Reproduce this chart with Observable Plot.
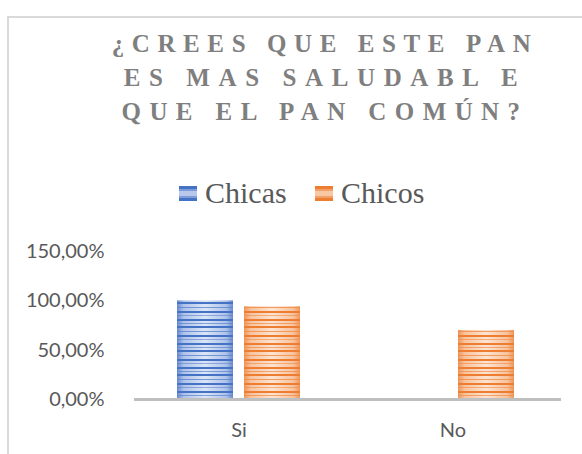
<!DOCTYPE html>
<html>
<head>
<meta charset="utf-8">
<script src="https://cdn.jsdelivr.net/npm/d3@7"></script>
<script src="https://cdn.jsdelivr.net/npm/@observablehq/plot@0.6"></script>
<style>
  html, body { margin: 0; padding: 0; background: #fff; }
  #page { position: relative; width: 582px; height: 454px; overflow: hidden; background: #fff; }
  #frame { position: absolute; left: 7px; top: 16px; width: 700px; height: 600px;
           border-top: 2px solid #d9d9d9; border-left: 2px solid #d9d9d9; box-sizing: border-box; }
  #title { position: absolute; left: 0; top: 27px; width: 650px; text-align: center;
           font-family: "Liberation Serif", "DejaVu Serif", serif; font-weight: bold;
           font-size: 25px; line-height: 34px; color: #7f7f7f; }
  .leg { position: absolute; top: 178px; height: 30px; display: flex; align-items: center;
         font-family: "Liberation Serif", serif; font-size: 30px; line-height: 30px; color: #595959; }
  .sw { width: 18px; height: 15px; margin-right: 8px; }
  #chart { position: absolute; left: 0; top: 230px; }
</style>
</head>
<body>
<svg width="0" height="0" style="position:absolute">
  <defs>
    <linearGradient id="gradChicas" x1="0" x2="1" y1="0" y2="0">
      <stop offset="0" stop-color="#6a8bcf"/>
      <stop offset="0.12" stop-color="#aec2ea"/>
      <stop offset="0.5" stop-color="#dde6f7"/>
      <stop offset="0.88" stop-color="#aec2ea"/>
      <stop offset="1" stop-color="#6a8bcf"/>
    </linearGradient>
    <linearGradient id="gradChicos" x1="0" x2="1" y1="0" y2="0">
      <stop offset="0" stop-color="#f0965a"/>
      <stop offset="0.12" stop-color="#f7c39e"/>
      <stop offset="0.5" stop-color="#fde4d2"/>
      <stop offset="0.88" stop-color="#f7c39e"/>
      <stop offset="1" stop-color="#f0965a"/>
    </linearGradient>
    <pattern id="stripesChicas" patternUnits="userSpaceOnUse" width="20" height="24">
      <rect x="0" y="0" width="20" height="2" fill="#4472c4"/>
      <rect x="0" y="5" width="20" height="1" fill="#5b84cc" opacity="0.8"/>
      <rect x="0" y="9" width="20" height="2" fill="#4472c4"/>
      <rect x="0" y="13" width="20" height="1" fill="#5b84cc" opacity="0.6"/>
      <rect x="0" y="17" width="20" height="2" fill="#4472c4"/>
      <rect x="0" y="21" width="20" height="1" fill="#5b84cc" opacity="0.7"/>
    </pattern>
    <pattern id="stripesChicos" patternUnits="userSpaceOnUse" width="20" height="24">
      <rect x="0" y="0" width="20" height="2" fill="#ed7d31"/>
      <rect x="0" y="5" width="20" height="1" fill="#f08b45" opacity="0.8"/>
      <rect x="0" y="9" width="20" height="2" fill="#ed7d31"/>
      <rect x="0" y="13" width="20" height="1" fill="#f08b45" opacity="0.6"/>
      <rect x="0" y="17" width="20" height="2" fill="#ed7d31"/>
      <rect x="0" y="21" width="20" height="1" fill="#f08b45" opacity="0.7"/>
    </pattern>
  </defs>
</svg>
<div id="page">
  <div id="frame"></div>
  <div id="title"></div>
  <div id="legend"></div>
  <div id="chart"></div>
</div>
<script>
const titleLines = ["¿CREES QUE ESTE PAN", "ES MAS SALUDABL E", "QUE EL PAN COMÚN?"];
const titleSpacing = [7.6, 8.6, 8.4];
const categories = ["Si", "No"];
const series = ["Chicas", "Chicos"];
const chicas = [1.00, 0.00];
const chicos = [0.94, 0.70];
const yTicks = [0, 0.5, 1, 1.5];

const seriesStyle = {
  Chicas: {grad: "url(#gradChicas)", stripes: "url(#stripesChicas)",
           swatch: "linear-gradient(to bottom, #4472c4 0 3px, #7d9bd8 3px 5px, #b7c8ec 5px 10px, #7d9bd8 10px 12px, #4472c4 12px 15px)"},
  Chicos: {grad: "url(#gradChicos)", stripes: "url(#stripesChicos)",
           swatch: "linear-gradient(to bottom, #ed7d31 0 3px, #f3a068 3px 5px, #f8c7a3 5px 10px, #f3a068 10px 12px, #ed7d31 12px 15px)"}
};

// title
document.getElementById("title").innerHTML = titleLines
  .map((t, i) => `<div style="letter-spacing:${titleSpacing[i]}px">${t}</div>`).join("");

// legend
const legendLeft = {Chicas: 179, Chicos: 315};
const legend = document.getElementById("legend");
series.forEach(s => {
  const item = document.createElement("div");
  item.className = "leg";
  item.style.left = legendLeft[s] + "px";
  item.innerHTML = `<span class="sw" style="background:${seriesStyle[s].swatch}"></span><span>${s}</span>`;
  legend.appendChild(item);
});

const data = categories.flatMap((c, i) => [
  {category: c, series: "Chicas", value: chicas[i]},
  {category: c, series: "Chicos", value: chicos[i]}
]);

const fmt = d => (d * 100).toFixed(2).replace(".", ",") + "%";

const barMarks = series.flatMap(s => [
  Plot.barY(data, {filter: d => d.series === s, fx: "category", x: "series", y: "value", fill: seriesStyle[s].grad}),
  Plot.barY(data, {filter: d => d.series === s, fx: "category", x: "series", y: "value", fill: seriesStyle[s].stripes})
]);

const chart = Plot.plot({
  width: 582,
  height: 224,
  marginLeft: 133,
  marginRight: 24,
  marginTop: 21,
  marginBottom: 55,
  style: {fontFamily: "Lato, sans-serif", fontSize: "20px", color: "#595959", background: "transparent"},
  fx: {domain: categories, paddingInner: 0.1, paddingOuter: 0.0384, label: null},
  x: {domain: series, paddingInner: 0.162, paddingOuter: 0.504, axis: null},
  y: {domain: [0, 1.5]},
  marks: [
    Plot.axisY(yTicks, {tickSize: 0, tickPadding: 38, tickFormat: fmt, fontSize: 20, color: "#595959", label: null}),
    Plot.axisFx({anchor: "bottom", tickSize: 0, tickPadding: 23, fontSize: 20, color: "#595959", label: null}),
    ...barMarks,
    Plot.frame({anchor: "bottom", facet: "super", stroke: "#bfbfbf", strokeWidth: 3, insetLeft: -7, insetRight: -10})
  ]
});
document.getElementById("chart").appendChild(chart);
</script>
</body>
</html>
